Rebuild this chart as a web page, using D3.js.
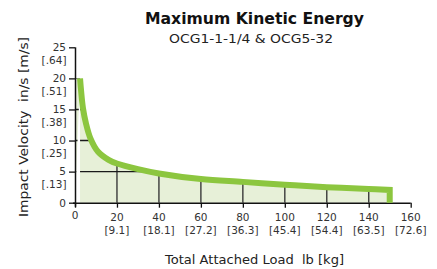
<!DOCTYPE html>
<html>
<head>
<meta charset="utf-8">
<script src="https://cdn.jsdelivr.net/npm/d3@7"></script>
<style>
  body { margin: 0; background: #fff; }
  text { font-family: "DejaVu Sans", sans-serif; white-space: pre; }
</style>
</head>
<body>
<svg id="chart" width="437" height="269"></svg>
<script>
// load in lb vs impact velocity in/s
let loadLb = [2.4, 2.9, 3.8, 5.2, 7.3, 11, 16, 20, 30, 40, 60, 80, 100, 120, 140, 150]
let velocity = [20, 18, 15.2, 12.8, 10.4, 8.2, 6.9, 6.3, 5.4, 4.7, 3.8, 3.35, 2.9, 2.5, 2.2, 2.05]

let xTicks = [0, 20, 40, 60, 80, 100, 120, 140, 160]
let xTicksKg = ["", "[9.1]", "[18.1]", "[27.2]", "[36.3]", "[45.4]", "[54.4]", "[63.5]", "[72.6]"]
let yTicks = [0, 5, 10, 15, 20, 25]
let yTicksMs = ["", "[.13]", "[.25]", "[.38]", "[.51]", "[.64]"]

let title = "Maximum Kinetic Energy"
let subtitle = "OCG1-1-1/4 & OCG5-32"
let xTitle = "Total Attached Load  lb [kg]"
let yTitle = "Impact Velocity  in/s [m/s]"

let svg = d3.select("#chart")
let x = d3.scaleLinear().domain([0, 160]).range([75, 410.7])
let y = d3.scaleLinear().domain([0, 25]).range([202.7, 47.3])

let pts = loadLb.map((d, i) => [d, velocity[i]])
let smooth = d3.curveCatmullRom.alpha(0.5)

// fill under the curve
let area = d3.area()
    .x(d => x(d[0]))
    .y0(y(0))
    .y1(d => y(d[1]))
    .curve(smooth)
let areaPath = area(pts) + `L${x(0)},${y(0)}L${x(0)},${y(velocity[0])}Z`

svg.append("clipPath").attr("id", "under")
    .append("path").attr("d", areaPath)

svg.append("path")
    .attr("d", areaPath)
    .attr("fill", "#e7f0d8")

// grid lines only inside the filled area
let grid = svg.append("g").attr("clip-path", "url(#under)")
grid.selectAll(".vg")
    .data(xTicks.slice(1, -1))
    .enter()
    .append("line")
    .attr("x1", d => x(d)).attr("x2", d => x(d))
    .attr("y1", y(0)).attr("y2", y(25))
    .attr("stroke", "#3a3a3a").attr("stroke-width", 1.4)
grid.selectAll(".hg")
    .data(yTicks.slice(1, -1))
    .enter()
    .append("line")
    .attr("x1", x(0)).attr("x2", x(160))
    .attr("y1", d => y(d)).attr("y2", d => y(d))
    .attr("stroke", "#1a1a1a").attr("stroke-width", 1.4)

// axes
let xAxis = d3.axisBottom(x).tickValues(xTicks).tickSize(5).tickFormat("")
let yAxis = d3.axisLeft(y).tickValues(yTicks).tickSize(6).tickFormat("")
let gx = svg.append("g").attr("transform", `translate(0,${y(0)})`).call(xAxis)
let gy = svg.append("g").attr("transform", `translate(${x(0)},0)`).call(yAxis)
gx.select(".domain").attr("d", `M${x(0) - 2},0.5H${x(160)}`)
gy.select(".domain").attr("d", `M0.5,${y(0) + 4}V${y(25)}`)
svg.selectAll(".domain").attr("stroke", "#111").attr("stroke-width", 1.5)
svg.selectAll(".tick line").attr("stroke", "#111").attr("stroke-width", 1.3)

// the curve itself, with the drop to zero at the end
let line = d3.line()
    .x(d => x(d[0]))
    .y(d => y(d[1]))
    .curve(smooth)
let last = loadLb[loadLb.length - 1]
svg.append("path")
    .attr("d", line(pts) + `L${x(last)},${y(0)}`)
    .attr("fill", "none")
    .attr("stroke", "#8cc63f")
    .attr("stroke-width", 6)
    .attr("stroke-linejoin", "miter")

// tick labels
let labels = svg.append("g").attr("font-size", 10.5).attr("fill", "#333")
labels.selectAll(".xl")
    .data(xTicks)
    .enter()
    .append("text")
    .attr("x", d => x(d))
    .attr("y", (d, i) => i === 0 ? y(0) + 16 : y(0) + 18.5)
    .attr("text-anchor", "middle")
    .text(d => d)
labels.selectAll(".xk")
    .data(xTicksKg)
    .enter()
    .append("text")
    .attr("x", (d, i) => x(xTicks[i]))
    .attr("y", y(0) + 31.5)
    .attr("text-anchor", "middle")
    .text(d => d)
labels.selectAll(".yl")
    .data(yTicks)
    .enter()
    .append("text")
    .attr("x", 66)
    .attr("y", d => y(d) + 3.8)
    .attr("text-anchor", "end")
    .text(d => d)
labels.selectAll(".ym")
    .data(yTicksMs)
    .enter()
    .append("text")
    .attr("x", 66.5)
    .attr("y", (d, i) => y(yTicks[i]) + 16.5)
    .attr("text-anchor", "end")
    .text(d => d)

// titles
svg.append("text")
    .attr("x", 254.5).attr("y", 24)
    .attr("text-anchor", "middle")
    .attr("font-size", 16).attr("font-weight", "bold").attr("fill", "#111")
    .attr("textLength", 219).attr("lengthAdjust", "spacingAndGlyphs")
    .text(title)
svg.append("text")
    .attr("x", 251).attr("y", 43.3)
    .attr("text-anchor", "middle")
    .attr("font-size", 12.5).attr("fill", "#222")
    .attr("textLength", 164).attr("lengthAdjust", "spacingAndGlyphs")
    .text(subtitle)
svg.append("text")
    .attr("x", 254.5).attr("y", 264)
    .attr("text-anchor", "middle")
    .attr("font-size", 13).attr("fill", "#222")
    .attr("textLength", 179).attr("lengthAdjust", "spacingAndGlyphs")
    .text(xTitle)
svg.append("text")
    .attr("transform", "translate(27.5,127) rotate(-90)")
    .attr("text-anchor", "middle")
    .attr("font-size", 13).attr("fill", "#222")
    .attr("textLength", 180).attr("lengthAdjust", "spacingAndGlyphs")
    .text(yTitle)
</script>
</body>
</html>
